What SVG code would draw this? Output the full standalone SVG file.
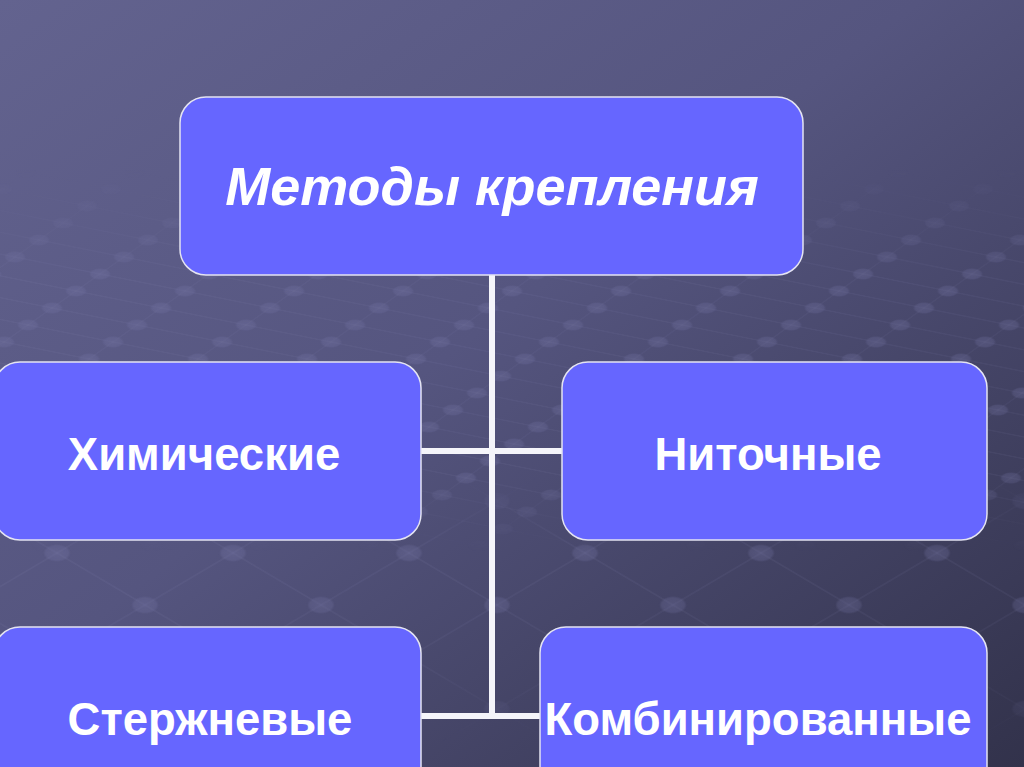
<svg xmlns="http://www.w3.org/2000/svg" width="1024" height="767" viewBox="0 0 1024 767">
  <defs>
    <linearGradient id="bg" x1="0" y1="0" x2="1" y2="1">
      <stop offset="0" stop-color="#63638f"/>
      <stop offset="0.45" stop-color="#55557f"/>
      <stop offset="1" stop-color="#32324b"/>
    </linearGradient>
    <radialGradient id="dot">
      <stop offset="0" stop-color="#7c7cac" stop-opacity="0.5"/>
      <stop offset="0.8" stop-color="#7878a8" stop-opacity="0.4"/>
      <stop offset="1" stop-color="#7878a8" stop-opacity="0"/>
    </radialGradient>
    <pattern id="net1" patternUnits="userSpaceOnUse" width="100" height="100" patternTransform="matrix(0.85,0.17,-0.24,0.17,887,257)">
      <line x1="-5" y1="0" x2="105" y2="0" stroke="#a0a0d0" stroke-opacity="0.14" stroke-width="5"/>
      <line x1="0" y1="-5" x2="0" y2="105" stroke="#a0a0d0" stroke-opacity="0.14" stroke-width="1.4"/>
      <line x1="100" y1="-5" x2="100" y2="105" stroke="#a0a0d0" stroke-opacity="0.14" stroke-width="1.4"/>
      <line x1="-5" y1="100" x2="105" y2="100" stroke="#a0a0d0" stroke-opacity="0.14" stroke-width="5"/>
      <g transform="translate(0,0) matrix(0.9174,-0.9174,1.2952,4.587,0,0)"><ellipse rx="11" ry="6" fill="url(#dot)"/></g>
      <g transform="translate(100,0) matrix(0.9174,-0.9174,1.2952,4.587,0,0)"><ellipse rx="11" ry="6" fill="url(#dot)"/></g>
      <g transform="translate(0,100) matrix(0.9174,-0.9174,1.2952,4.587,0,0)"><ellipse rx="11" ry="6" fill="url(#dot)"/></g>
      <g transform="translate(100,100) matrix(0.9174,-0.9174,1.2952,4.587,0,0)"><ellipse rx="11" ry="6" fill="url(#dot)"/></g>
    </pattern>
    <pattern id="net2" patternUnits="userSpaceOnUse" width="100" height="100" patternTransform="matrix(0.88,-0.52,0.88,0.52,145,605)">
      <line x1="-5" y1="0" x2="105" y2="0" stroke="#a0a0d0" stroke-opacity="0.14" stroke-width="1.6"/>
      <line x1="0" y1="-5" x2="0" y2="105" stroke="#a0a0d0" stroke-opacity="0.14" stroke-width="1.6"/>
      <line x1="100" y1="-5" x2="100" y2="105" stroke="#a0a0d0" stroke-opacity="0.14" stroke-width="1.6"/>
      <line x1="-5" y1="100" x2="105" y2="100" stroke="#a0a0d0" stroke-opacity="0.14" stroke-width="1.6"/>
      <g transform="translate(0,0) matrix(0.568,0.568,-0.9615,0.9615,0,0)"><ellipse rx="14" ry="9" fill="url(#dot)"/></g>
      <g transform="translate(100,0) matrix(0.568,0.568,-0.9615,0.9615,0,0)"><ellipse rx="14" ry="9" fill="url(#dot)"/></g>
      <g transform="translate(0,100) matrix(0.568,0.568,-0.9615,0.9615,0,0)"><ellipse rx="14" ry="9" fill="url(#dot)"/></g>
      <g transform="translate(100,100) matrix(0.568,0.568,-0.9615,0.9615,0,0)"><ellipse rx="14" ry="9" fill="url(#dot)"/></g>
    </pattern>
    <linearGradient id="fade1" x1="0" y1="0" x2="0" y2="1">
      <stop offset="0.22" stop-color="#fff" stop-opacity="0"/>
      <stop offset="0.36" stop-color="#fff" stop-opacity="0.6"/>
      <stop offset="0.62" stop-color="#fff" stop-opacity="0.6"/>
      <stop offset="0.72" stop-color="#fff" stop-opacity="0"/>
    </linearGradient>
    <linearGradient id="fade2" x1="0" y1="0" x2="0" y2="1">
      <stop offset="0.62" stop-color="#fff" stop-opacity="0"/>
      <stop offset="0.72" stop-color="#fff" stop-opacity="0.65"/>
      <stop offset="0.86" stop-color="#fff" stop-opacity="0.55"/>
      <stop offset="0.97" stop-color="#fff" stop-opacity="0"/>
    </linearGradient>
    <mask id="m1"><rect x="0" y="0" width="1024" height="767" fill="url(#fade1)"/></mask>
    <mask id="m2"><rect x="0" y="0" width="1024" height="767" fill="url(#fade2)"/></mask>
  </defs>
  <style>
    .box { fill: #6666ff; stroke: #e4e4f2; stroke-width: 1.5; }
    .lbl { fill: #ffffff; font-family: "Liberation Sans", Arial, sans-serif; font-weight: bold; font-size: 45.5px; text-anchor: middle; }
    .ttl { font-size: 54px; font-style: italic; }
    .conn { stroke: #f5f5fa; stroke-width: 6; fill: none; }
  </style>

  <rect x="0" y="0" width="1024" height="767" fill="url(#bg)"/>
  <rect x="0" y="0" width="1024" height="767" fill="url(#net1)" mask="url(#m1)"/>
  <rect x="0" y="0" width="1024" height="767" fill="url(#net2)" mask="url(#m2)"/>

  <g id="connectors">
    <line class="conn" x1="492" y1="275" x2="492" y2="719"/>
    <line class="conn" x1="421" y1="451" x2="562" y2="451"/>
    <line class="conn" x1="421" y1="716" x2="540" y2="716"/>
  </g>

  <g id="node-main">
    <rect class="box" x="180" y="97" width="623" height="178" rx="26"/>
    <text class="lbl ttl" x="492" y="205">Методы крепления</text>
  </g>

  <g id="node-chem">
    <rect class="box" x="-6" y="362" width="427" height="178" rx="26"/>
    <text class="lbl" x="204" y="470">Химические</text>
  </g>

  <g id="node-thread">
    <rect class="box" x="562" y="362" width="425" height="178" rx="26"/>
    <text class="lbl" x="768" y="470">Ниточные</text>
  </g>

  <g id="node-rod">
    <rect class="box" x="-6" y="627" width="427" height="178" rx="26"/>
    <text class="lbl" x="210" y="735">Стержневые</text>
  </g>

  <g id="node-combined">
    <rect class="box" x="540" y="627" width="447" height="178" rx="26"/>
    <text class="lbl" x="758" y="735">Комбинированные</text>
  </g>
</svg>
